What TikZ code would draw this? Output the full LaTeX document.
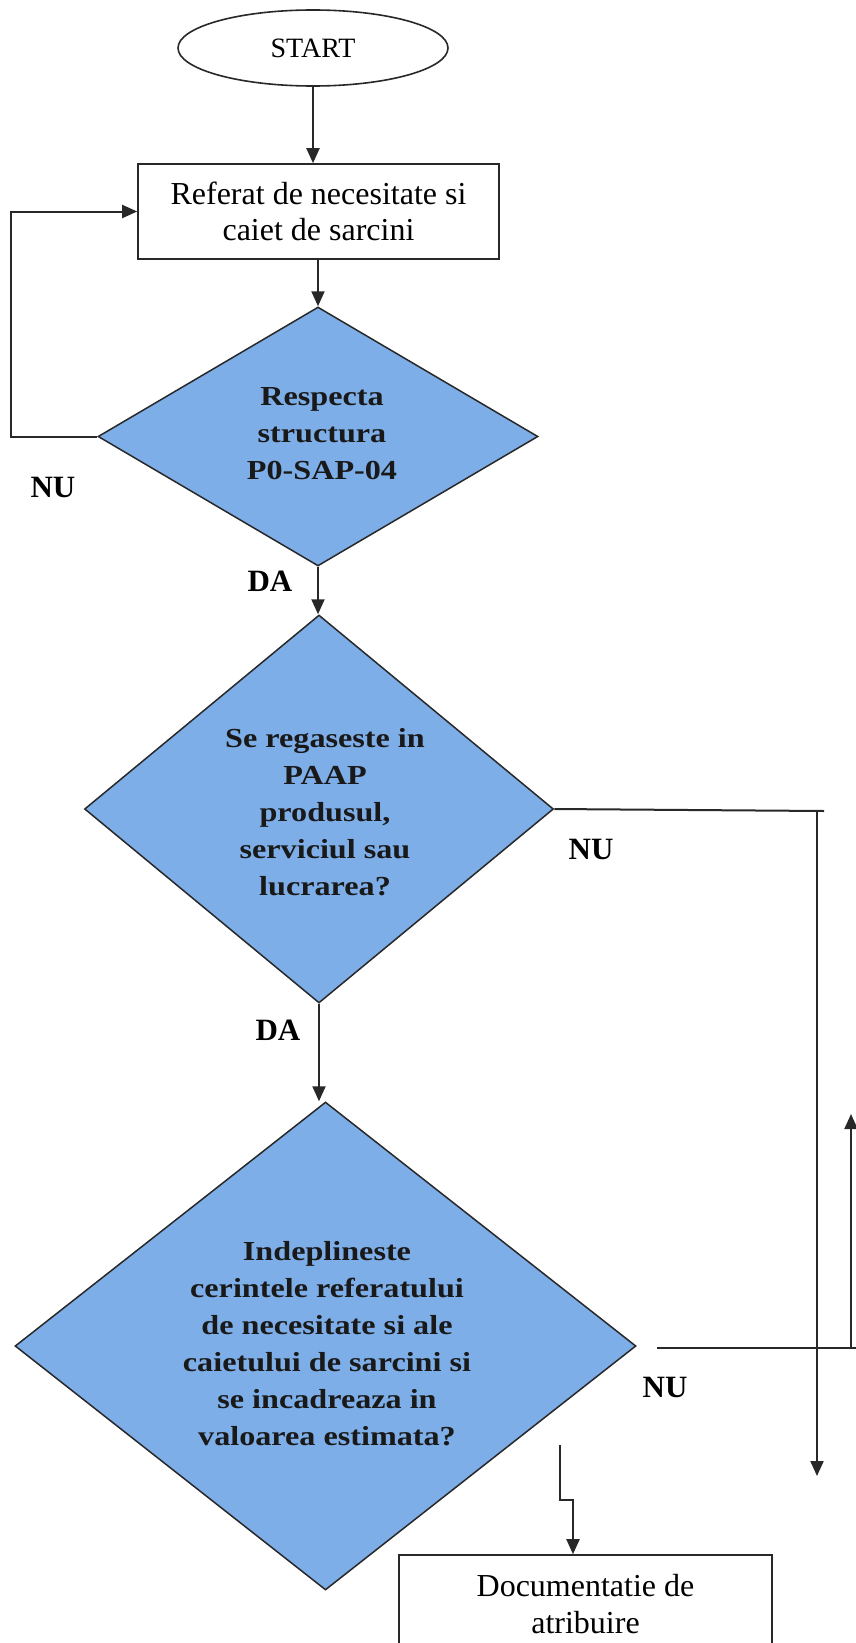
\documentclass[tikz,border=0pt]{standalone}
\usepackage{fontspec}
\setmainfont{Liberation Serif}
\newfontfamily\widefont[FakeStretch=1.17,BoldFont={Liberation Serif Bold}]{Liberation Serif}
\usetikzlibrary{shapes.geometric,arrows.meta}
\definecolor{dfill}{RGB}{126,174,232}
\definecolor{lineg}{RGB}{40,40,40}
\begin{document}
\begin{tikzpicture}[x=1pt,y=-1pt,
  conn/.style={draw=lineg,line width=2pt},
  arr/.style={conn,-{Triangle[length=15pt,width=13pt]}},
  procbox/.style={draw=lineg,line width=1.6pt,fill=white,align=center,inner sep=0pt,font=\fontsize{32}{36.6}\selectfont},
  decis/.style={shape=diamond,draw=lineg,line width=1.5pt,fill=dfill,inner sep=0pt},
  dtext/.style={align=center,inner sep=0pt,font=\widefont\fontsize{27.5}{37}\selectfont\bfseries,text=black!90},
  lbl/.style={inner sep=0pt,font=\fontsize{31}{36}\selectfont\bfseries}]
\useasboundingbox (0,0) rectangle (856,1643);
% nodes
\node[draw=lineg,line width=1.6pt,ellipse,minimum width=270pt,minimum height=76pt,inner sep=0pt,font=\fontsize{28}{32}\selectfont] (start) at (313,48) {START};
\node[procbox,minimum width=361pt,minimum height=95pt] (box1) at (318.5,211.5) {Referat de necesitate si\\caiet de sarcini};
\node[decis,minimum width=440pt,minimum height=259pt] (d1) at (318,436.5) {};
\node[dtext] (d1t) at (322,434) {Respecta\\structura\\P0-SAP-04};
\node[decis,minimum width=469pt,minimum height=388pt] (d2) at (319,809) {};
\node[dtext] (d2t) at (325,812) {Se regaseste in\\PAAP\\produsul,\\serviciul sau\\lucrarea?};
\node[decis,minimum width=621pt,minimum height=488pt] (d3) at (325.5,1346) {};
\node[dtext] (d3t) at (327,1344) {Indeplineste\\cerintele referatului\\de necesitate si ale\\caietului de sarcini si\\se incadreaza in\\valoarea estimata?};
\node[procbox,minimum width=373pt,minimum height=98pt] (box2) at (585.5,1604) {Documentatie de\\atribuire};
% labels
\node[lbl] (nu1) at (53,487) {NU};
\node[lbl] (da1) at (270,581) {DA};
\node[lbl] (nu2) at (591,849) {NU};
\node[lbl] (da2) at (278,1030) {DA};
\node[lbl] (nu3) at (665,1387) {NU};
% helper coordinates
\coordinate (loopx) at (11,436.5);
\coordinate (r1) at (824,811);
\coordinate (r1v) at (817,811);
\coordinate (r1end) at (817,1476);
\coordinate (r2a) at (657,1348);
\coordinate (r2b) at (856,1348);
\coordinate (r2v) at (851,1348);
\coordinate (r2end) at (851,1114);
\coordinate (c3) at (560,1445);
% connectors
\draw[arr] (start.south) -- (start.south |- box1.north);
\draw[arr] (box1.south) -- (box1.south -| d1.north) -- (d1.north);
\draw[arr] (d1.west) -- (loopx) |- (box1.west);
\draw[arr] (d1.south) -- (d1.south |- d2.north);
\draw[arr] (d2.south) -- (d2.south |- d3.north);
\draw[conn] (d2.east) -- (r1);
\draw[arr] (r1v) -- (r1end);
\draw[conn] (r2a) -- (r2b);
\draw[arr] (r2v) -- (r2end);
\draw[arr] (c3) -- (560,1500) -- (573,1500) -- (573,1500 |- box2.north);
\end{tikzpicture}
\end{document}
